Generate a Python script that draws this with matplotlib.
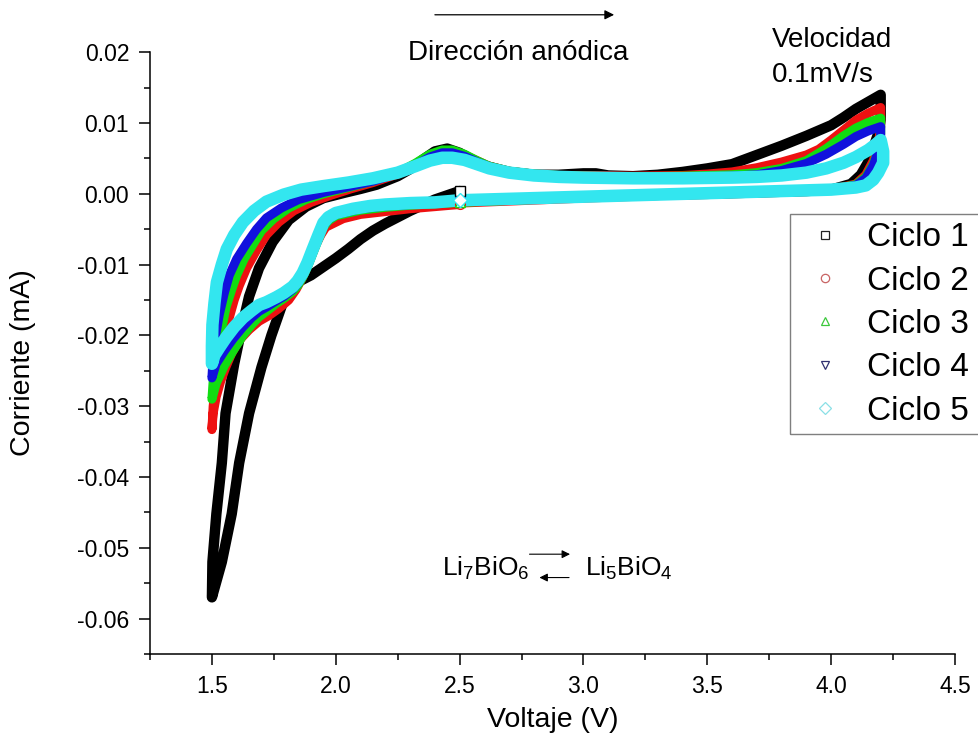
import matplotlib
matplotlib.use("Agg")
import matplotlib.pyplot as plt
from matplotlib.lines import Line2D
from matplotlib.patches import Rectangle
from matplotlib.ticker import MultipleLocator

plt.rcParams['font.family'] = ['Liberation Sans', 'DejaVu Sans']
plt.rcParams['mathtext.fontset'] = 'custom'
plt.rcParams['mathtext.rm'] = 'Liberation Sans'
plt.rcParams['mathtext.it'] = 'Liberation Sans:italic'
plt.rcParams['mathtext.default'] = 'regular'

# ---- Cyclic voltammetry data: voltage (V) and current (mA) per cycle ----
# Cycle 1: starts at OCV (2.5 V), sweeps down to 1.5 V, up to 4.2 V, back to 2.5 V
v_ciclo1 = [2.50, 2.45, 2.40, 2.35, 2.30, 2.25, 2.20, 2.15, 2.10, 2.05, 2.00, 1.95, 1.90, 1.85, 1.80,
            1.77, 1.74, 1.70, 1.65, 1.61, 1.58, 1.54, 1.50,
            1.502, 1.518, 1.54, 1.555, 1.59, 1.62, 1.65, 1.69, 1.745, 1.81, 1.88, 1.95, 2.04, 2.10,
            2.165, 2.25, 2.30, 2.35, 2.40, 2.45, 2.50, 2.55, 2.60, 2.70, 2.80, 2.90, 3.00, 3.05, 3.10,
            3.20, 3.30, 3.40, 3.50, 3.60, 3.70, 3.80, 3.90, 4.00, 4.05, 4.10, 4.15, 4.20,
            4.20, 4.20, 4.19, 4.17, 4.15, 4.12, 4.08, 4.00, 3.90, 3.70, 3.50, 3.20, 3.00, 2.80, 2.60, 2.50]
i_ciclo1 = [0.0004, -0.0002, -0.0008, -0.0016, -0.0024, -0.0033, -0.0042, -0.0052, -0.0064, -0.0078,
            -0.0091, -0.0103, -0.0115, -0.0124, -0.0140, -0.0170, -0.0200, -0.0245, -0.0310, -0.0380,
            -0.0452, -0.0520, -0.0570,
            -0.0520, -0.0452, -0.0380, -0.0310, -0.0240, -0.0190, -0.0145, -0.0105, -0.0068, -0.0037,
            -0.0018, -0.0006, 0.0002, 0.0007, 0.0013, 0.0025, 0.0035, 0.0048, 0.0060, 0.0064, 0.0058,
            0.0048, 0.0040, 0.0031, 0.0027, 0.0027, 0.0029, 0.0029, 0.0026, 0.0025, 0.0027, 0.0031,
            0.0036, 0.0042, 0.0055, 0.0068, 0.0082, 0.0097, 0.0108, 0.0120, 0.0130, 0.0140,
            0.0125, 0.0105, 0.0085, 0.0065, 0.0045, 0.0027, 0.0014, 0.0006, 0.0004, 0.0002, 0.0000,
            -0.0002, -0.0004, -0.0006, -0.0009, -0.0011]

v_ciclo2 = [2.50, 2.40, 2.30, 2.20, 2.10, 2.03, 1.96, 1.94, 1.92, 1.90, 1.88, 1.86, 1.84, 1.81, 1.77,
            1.73, 1.69, 1.65, 1.61, 1.58, 1.556, 1.535, 1.517, 1.505, 1.50,
            1.505, 1.517, 1.535, 1.55, 1.57, 1.59, 1.61, 1.64, 1.68, 1.72, 1.77, 1.83, 1.90, 1.98,
            2.06, 2.15, 2.25, 2.32, 2.38, 2.43, 2.47, 2.52, 2.57, 2.62, 2.70, 2.80, 2.90, 3.00, 3.20,
            3.40, 3.50, 3.60, 3.70, 3.80, 3.85, 3.90, 3.95, 4.00, 4.05, 4.10, 4.15, 4.20,
            4.20, 4.19, 4.17, 4.14, 4.10, 4.00, 3.80, 3.50, 3.00, 2.50]
i_ciclo2 = [-0.0015, -0.0018, -0.0021, -0.0025, -0.0029, -0.0035, -0.0047, -0.0058, -0.0072, -0.0090,
            -0.0107, -0.0122, -0.0135, -0.0150, -0.0162, -0.0172, -0.0180, -0.0192, -0.0207, -0.0225,
            -0.0245, -0.0265, -0.0287, -0.0310, -0.0333,
            -0.0300, -0.0263, -0.0230, -0.0200, -0.0175, -0.0150, -0.0130, -0.0105, -0.0080, -0.0058,
            -0.0040, -0.0024, -0.0012, -0.0002, 0.0007, 0.0016, 0.0028, 0.0041, 0.0053, 0.0060, 0.0060,
            0.0055, 0.0047, 0.0039, 0.0032, 0.0028, 0.0026, 0.0026, 0.0025, 0.0026, 0.0028, 0.0031,
            0.0037, 0.0045, 0.0050, 0.0055, 0.0063, 0.0076, 0.0090, 0.0104, 0.0114, 0.0122,
            0.0095, 0.0070, 0.0047, 0.0027, 0.0014, 0.0006, 0.0003, 0.0000, -0.0006, -0.0013]

v_ciclo3 = [2.50, 2.40, 2.30, 2.20, 2.10, 2.00, 1.97, 1.95, 1.93, 1.906, 1.886, 1.866, 1.846, 1.826,
            1.79, 1.76, 1.72, 1.69, 1.66, 1.625, 1.585, 1.55, 1.517, 1.50,
            1.507, 1.52, 1.54, 1.557, 1.58, 1.60, 1.63, 1.665, 1.70, 1.75, 1.81, 1.88, 1.95, 2.05,
            2.15, 2.25, 2.32, 2.38, 2.43, 2.47, 2.52, 2.57, 2.62, 2.70, 2.80, 2.90, 3.00, 3.20, 3.40,
            3.60, 3.70, 3.80, 3.90, 3.98, 4.05, 4.10, 4.15, 4.20,
            4.20, 4.19, 4.17, 4.14, 4.10, 4.00, 3.80, 3.50, 3.00, 2.50]
i_ciclo3 = [-0.0012, -0.0014, -0.0016, -0.0019, -0.0023, -0.0031, -0.0038, -0.0047, -0.0064, -0.0085,
            -0.0103, -0.0118, -0.0130, -0.0138, -0.0148, -0.0155, -0.0166, -0.0174, -0.0185, -0.0200,
            -0.0222, -0.0243, -0.0268, -0.0290,
            -0.0255, -0.0220, -0.0190, -0.0160, -0.0135, -0.0115, -0.0092, -0.0072, -0.0052, -0.0035,
            -0.0020, -0.0008, 0.0000, 0.0009, 0.0018, 0.0030, 0.0043, 0.0056, 0.0062, 0.0062, 0.0056,
            0.0047, 0.0039, 0.0032, 0.0028, 0.0026, 0.0025, 0.0024, 0.0025, 0.0027, 0.0030, 0.0036,
            0.0047, 0.0064, 0.0082, 0.0093, 0.0101, 0.0107,
            0.0085, 0.0062, 0.0042, 0.0024, 0.0013, 0.0006, 0.0003, 0.0000, -0.0005, -0.0012]

v_ciclo4 = [2.50, 2.40, 2.30, 2.20, 2.10, 2.00, 1.97, 1.95, 1.93, 1.906, 1.886, 1.866, 1.846, 1.826,
            1.79, 1.76, 1.72, 1.69, 1.66, 1.625, 1.585, 1.55, 1.517, 1.50,
            1.505, 1.515, 1.53, 1.55, 1.57, 1.60, 1.64, 1.68, 1.72, 1.78, 1.85, 1.95, 2.05, 2.15,
            2.25, 2.32, 2.38, 2.43, 2.47, 2.52, 2.57, 2.62, 2.70, 2.80, 2.90, 3.00, 3.20, 3.40, 3.60,
            3.70, 3.80, 3.90, 3.98, 4.05, 4.10, 4.15, 4.20,
            4.20, 4.19, 4.17, 4.14, 4.10, 4.00, 3.80, 3.50, 3.00, 2.50]
i_ciclo4 = [-0.0011, -0.0013, -0.0015, -0.0017, -0.0021, -0.0029, -0.0036, -0.0045, -0.0062, -0.0083,
            -0.0101, -0.0116, -0.0127, -0.0135, -0.0145, -0.0151, -0.0160, -0.0166, -0.0175, -0.0188,
            -0.0205, -0.0222, -0.0240, -0.0260,
            -0.0230, -0.0200, -0.0170, -0.0140, -0.0115, -0.0092, -0.0070, -0.0050, -0.0034, -0.0020,
            -0.0008, 0.0002, 0.0010, 0.0018, 0.0029, 0.0040, 0.0052, 0.0058, 0.0058, 0.0053, 0.0045,
            0.0038, 0.0031, 0.0027, 0.0025, 0.0024, 0.0023, 0.0023, 0.0025, 0.0027, 0.0033, 0.0043,
            0.0056, 0.0070, 0.0081, 0.0089, 0.0095,
            0.0080, 0.0060, 0.0040, 0.0022, 0.0012, 0.0006, 0.0003, 0.0000, -0.0005, -0.0011]

v_ciclo5 = [2.50, 2.40, 2.30, 2.20, 2.14, 2.07, 2.00, 1.97, 1.95, 1.93, 1.906, 1.886, 1.866, 1.846,
            1.826, 1.79, 1.76, 1.72, 1.69, 1.66, 1.625, 1.59, 1.557, 1.53, 1.51, 1.50,
            1.50, 1.502, 1.51, 1.52, 1.54, 1.56, 1.59, 1.625, 1.67, 1.72, 1.79, 1.86, 1.95, 2.05,
            2.15, 2.25, 2.32, 2.38, 2.43, 2.47, 2.52, 2.57, 2.62, 2.70, 2.80, 2.90, 3.00, 3.20, 3.40,
            3.60, 3.70, 3.80, 3.90, 3.98, 4.05, 4.10, 4.15, 4.18, 4.20,
            4.21, 4.21, 4.19, 4.17, 4.14, 4.10, 4.00, 3.80, 3.50, 3.20, 3.00, 2.80, 2.60, 2.50]
i_ciclo5 = [-0.0009, -0.0012, -0.0013, -0.0015, -0.0017, -0.0021, -0.0027, -0.0033, -0.0041, -0.0058,
            -0.0079, -0.0097, -0.0112, -0.0123, -0.0131, -0.0140, -0.0146, -0.0153, -0.0157, -0.0165,
            -0.0175, -0.0188, -0.0203, -0.0217, -0.0228, -0.0240,
            -0.0215, -0.0185, -0.0155, -0.0125, -0.0100, -0.0078, -0.0058, -0.0040, -0.0024, -0.0011,
            -0.0001, 0.0006, 0.0011, 0.0016, 0.0022, 0.0030, 0.0039, 0.0047, 0.0051, 0.0051, 0.0048,
            0.0042, 0.0036, 0.0030, 0.0026, 0.0024, 0.0023, 0.0022, 0.0022, 0.0023, 0.0024, 0.0026,
            0.0030, 0.0036, 0.0044, 0.0052, 0.0062, 0.0070, 0.0076,
            0.0060, 0.0044, 0.0030, 0.0020, 0.0012, 0.0009, 0.0006, 0.0004, 0.0001, -0.0002, -0.0004,
            -0.0006, -0.0008, -0.0009]

labels = ['Ciclo 1', 'Ciclo 2', 'Ciclo 3', 'Ciclo 4', 'Ciclo 5']
series = [(v_ciclo1, i_ciclo1), (v_ciclo2, i_ciclo2), (v_ciclo3, i_ciclo3),
          (v_ciclo4, i_ciclo4), (v_ciclo5, i_ciclo5)]
colors = ['#000000', '#ee1111', '#11dd11', '#1111dd', '#33e6ef']
markers = ['s', 'o', '^', 'v', 'D']
widths = [7.5, 6.5, 6.5, 6.5, 9.0]
legend_colors = ['#222222', '#c86464', '#3cc83c', '#303070', '#8ae0e6']

fig = plt.figure(figsize=(9.79, 7.44), dpi=100)
ax = fig.add_axes([150 / 979, 1 - 654 / 744, 805 / 979, (654 - 52.3) / 744])

for (v, i), c, m, w in zip(series, colors, markers, widths):
    ax.plot(v, i, color=c, lw=w, solid_capstyle='round', solid_joinstyle='round', zorder=2)
    # first point of each sweep drawn as an open symbol
    ax.plot(v[:1], i[:1], ls='none', marker=m, ms=7, mfc='white', mec=c, mew=1.0, zorder=3)

ax.set_xlim(1.25, 4.5)
ax.set_ylim(-0.065, 0.02)
ax.xaxis.set_major_locator(MultipleLocator(0.5))
ax.xaxis.set_minor_locator(MultipleLocator(0.25))
ax.yaxis.set_major_locator(MultipleLocator(0.01))
ax.yaxis.set_minor_locator(MultipleLocator(0.005))
ax.set_yticks([0.02, 0.01, 0.0, -0.01, -0.02, -0.03, -0.04, -0.05, -0.06])
ax.set_yticklabels(['0.02', '0.01', '0.00', '-0.01', '-0.02', '-0.03', '-0.04', '-0.05', '-0.06'])
ax.set_xticks([1.5, 2.0, 2.5, 3.0, 3.5, 4.0, 4.5])
ax.set_xticklabels(['1.5', '2.0', '2.5', '3.0', '3.5', '4.0', '4.5'])

for s in ['top', 'right']:
    ax.spines[s].set_visible(False)
for s in ['left', 'bottom']:
    ax.spines[s].set_linewidth(1.1)
ax.tick_params(which='major', direction='out', length=8, width=1.1, labelsize=16.5, pad=7)
ax.tick_params(which='minor', direction='out', length=4.5, width=1.1)

ax.set_xlabel('Voltaje (V)', fontsize=20.5)
ax.set_ylabel('Corriente (mA)', fontsize=20.5)
ax.xaxis.set_label_coords(0.5, -0.088)
ax.yaxis.set_label_coords(-0.142, 0.485)

# Annotations
ax.annotate('', xy=(3.135, 0.0253), xytext=(2.389, 0.0253), xycoords='data',
            annotation_clip=False,
            arrowprops=dict(arrowstyle='-|>', color='black', lw=0.9, mutation_scale=14))
ax.text(2.29, 0.0189, 'Dirección anódica', fontsize=20, ha='left', va='baseline', clip_on=False)
ax.text(3.762, 0.0207, 'Velocidad', fontsize=20, ha='left', va='baseline', clip_on=False)
ax.text(3.762, 0.0158, '0.1mV/s', fontsize=20, ha='left', va='baseline', clip_on=False)

ax.text(2.428, -0.0539, r'Li$_{7}$BiO$_{6}$', fontsize=19, ha='left', va='baseline')
ax.text(3.005, -0.0539, r'Li$_{5}$BiO$_{4}$', fontsize=19, ha='left', va='baseline')
ax.annotate('', xy=(2.957, -0.0509), xytext=(2.771, -0.0509),
            arrowprops=dict(arrowstyle='-|>', color='black', lw=0.8, mutation_scale=12))
ax.annotate('', xy=(2.811, -0.0542), xytext=(2.953, -0.0542),
            arrowprops=dict(arrowstyle='-|>', color='black', lw=0.8, mutation_scale=12))

# Legend with open symbols; its frame runs past the right edge of the figure
handles = [Line2D([], [], ls='none', marker=m, ms=6, mfc='none', mec=c, mew=0.9)
           for m, c in zip(markers, legend_colors)]
leg = fig.legend(handles, labels, loc='upper left',
                 bbox_to_anchor=(790 / 979, 1 - 214 / 744),
                 bbox_transform=fig.transFigure, fontsize=24, frameon=False,
                 borderpad=0.25, handlelength=1.6, handletextpad=0.45, labelspacing=0.37,
                 borderaxespad=0.0)
fig.patches.append(Rectangle((790 / 979, 1 - 434 / 744), 0.25, 220 / 744,
                             transform=fig.transFigure, fill=False,
                             edgecolor='#7f7f7f', linewidth=1.0))

fig.savefig('out.png', dpi=100)
